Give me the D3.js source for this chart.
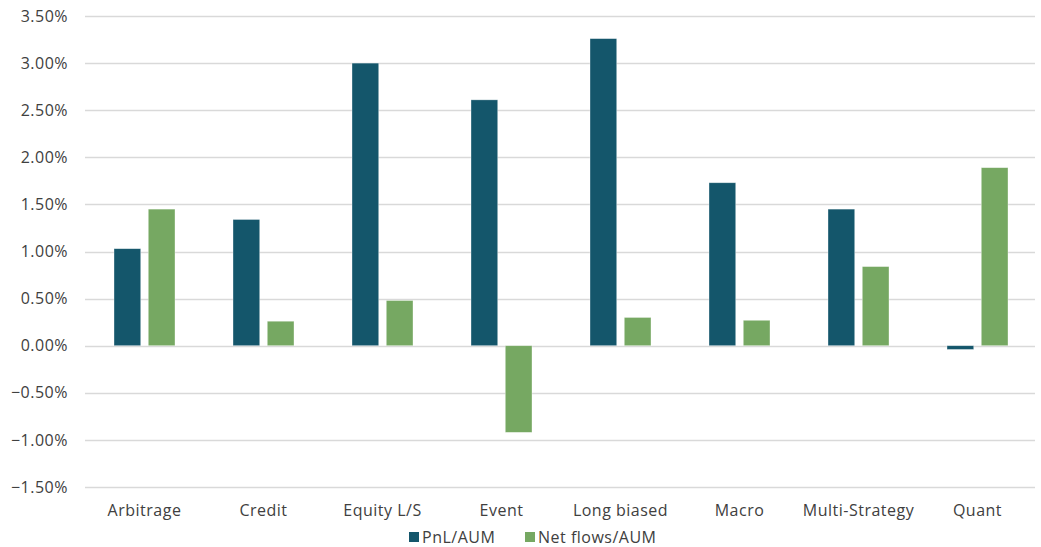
<!DOCTYPE html>
<html>
<head>
<meta charset="utf-8">
<script src="https://cdn.jsdelivr.net/npm/d3@7"></script>
<style>
  body { margin: 0; background: #fff; }
  text { font-family: "Open Sans", "Noto Sans", sans-serif; fill: #404040; letter-spacing: 0.5px; }
</style>
</head>
<body>
<div id="chart"></div>
<script>
const categories = ["Arbitrage", "Credit", "Equity L/S", "Event", "Long biased", "Macro", "Multi-Strategy", "Quant"];
const seriesNames = ["PnL/AUM", "Net flows/AUM"];
const pnl = [1.03, 1.34, 3.00, 2.61, 3.26, 1.73, 1.45, -0.04];
const netFlows = [1.45, 0.26, 0.48, -0.92, 0.30, 0.27, 0.84, 1.89];
const yTicks = [-1.5, -1.0, -0.5, 0, 0.5, 1.0, 1.5, 2.0, 2.5, 3.0, 3.5];
const colors = ["#14566b", "#76a862"];

const dims = { width: 1041, height: 547, left: 85, right: 4, top: 16, bottom: 60 };

const svg = d3.select("#chart")
    .append("svg")
    .attr("width", dims.width)
    .attr("height", dims.height);

const x = d3.scaleBand()
    .domain(categories)
    .range([dims.left, dims.width - dims.right]);

const x1 = d3.scaleBand()
    .domain(seriesNames)
    .range([-30.5, 30.5])
    .paddingInner(0.22);

const y = d3.scaleLinear()
    .domain([-1.5, 3.5])
    .range([dims.height - dims.bottom, dims.top]);

// gridlines
svg.append("g")
    .selectAll("line")
    .data(yTicks)
    .join("line")
    .attr("x1", dims.left)
    .attr("x2", dims.width - dims.right - 2)
    .attr("y1", d => Math.round(y(d)) + 0.5)
    .attr("y2", d => Math.round(y(d)) + 0.5)
    .style("stroke", "#d9d9d9")
    .style("stroke-width", 1.3);

// y labels
svg.append("g")
    .selectAll("text")
    .data(yTicks)
    .join("text")
    .attr("x", 68)
    .attr("y", d => y(d))
    .attr("dy", "0.35em")
    .style("text-anchor", "end")
    .style("font-size", "16px")
    .text(d => d3.format(".2f")(d) + "%");

// bars
const rows = categories.map((c, i) => ({ cat: c, values: [pnl[i], netFlows[i]] }));

const groups = svg.append("g")
    .selectAll("g")
    .data(rows)
    .join("g")
    .attr("transform", d => `translate(${x(d.cat) + x.bandwidth() / 2},0)`);

groups.selectAll("rect")
    .data(d => d.values.map((v, j) => ({ key: seriesNames[j], v: v, j: j })))
    .join("rect")
    .attr("x", d => x1(d.key))
    .attr("width", x1.bandwidth())
    .attr("y", d => y(Math.max(0, d.v)))
    .attr("height", d => Math.abs(y(d.v) - y(0)))
    .style("fill", d => colors[d.j])
    .style("stroke", "#ffffff")
    .style("stroke-opacity", 0.5)
    .style("stroke-width", 0.7);

// category labels
svg.append("g")
    .selectAll("text")
    .data(categories)
    .join("text")
    .attr("x", d => x(d) + x.bandwidth() / 2)
    .attr("y", 516)
    .style("text-anchor", "middle")
    .style("font-size", "16px")
    .text(d => d);

// legend
const legendX = [409, 525];
const legend = svg.append("g")
    .selectAll("g")
    .data(seriesNames)
    .join("g")
    .attr("transform", (d, i) => `translate(${legendX[i]},537)`);

legend.append("rect")
    .attr("x", 0)
    .attr("y", -5)
    .attr("width", 10)
    .attr("height", 10)
    .style("fill", (d, i) => colors[i]);

legend.append("text")
    .attr("x", 13)
    .attr("dy", "0.35em")
    .style("font-size", "16px")
    .text(d => d);
</script>
</body>
</html>
